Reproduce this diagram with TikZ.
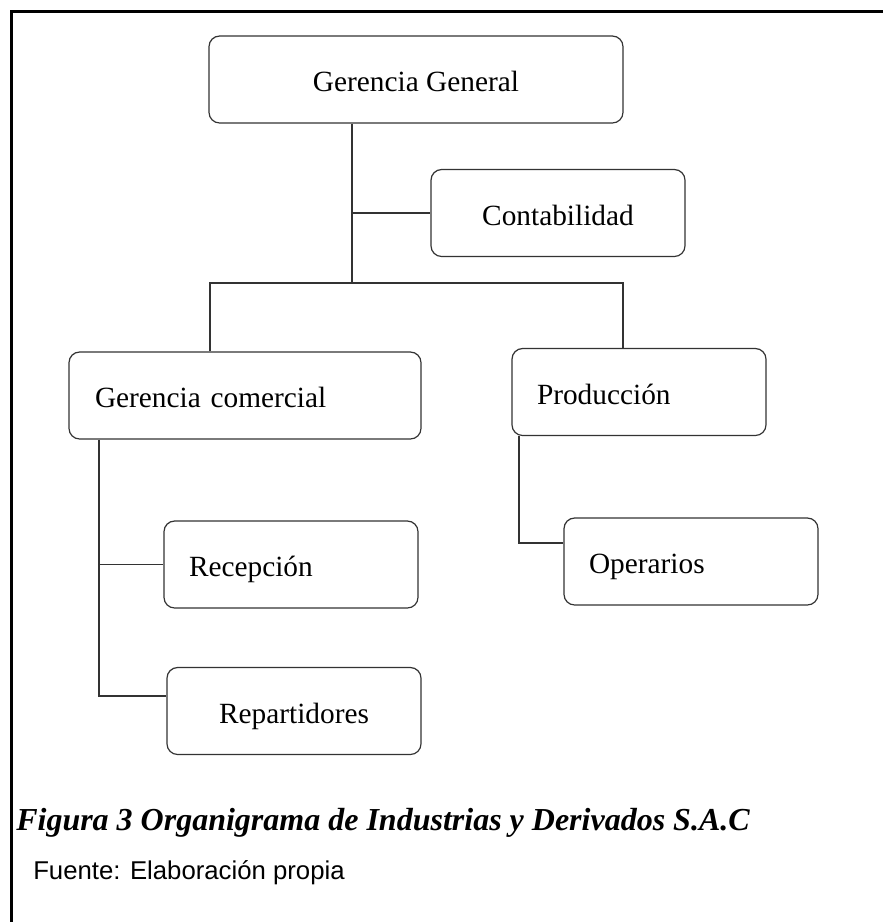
\documentclass[tikz,border=0pt]{standalone}
\usepackage{fontspec}
\setmainfont{Liberation Serif}
\newfontfamily\arial{Liberation Sans}
\usetikzlibrary{positioning,calc}

\begin{document}
\begin{tikzpicture}[
    x=0.75pt, y=-0.75pt,
    caja/.style={rectangle, draw=black!80, line width=0.9pt, rounded corners=8pt, minimum height=65.25pt, inner ysep=0pt, text height=18pt, text depth=0pt, font=\fontsize{22}{26}\selectfont},
    cajaizq/.style={caja, align=left, inner xsep=18.75pt, text width=153pt},
    linea/.style={draw=black!80, line width=0.9pt}
]
    \useasboundingbox (0,0) rectangle (883,922);
    % marco
    \draw[line width=2pt] (11.5,922) -- (11.5,11.5) -- (883,11.5);

    \node[caja, minimum width=310.5pt] (gerencia) at (416,79.5) {Gerencia General};
    \node[caja, minimum width=190.5pt] (conta) at (558,213) {Contabilidad};
    \node[cajaizq, inner xsep=19.5pt, text width=225pt] (comercial) at (245,395.5) {Gerencia comercial};
    \node[cajaizq] (produccion) at (639,392) {Producción};
    \node[cajaizq] (operarios) at (691,561.5) {Operarios};
    \node[cajaizq] (recepcion) at (291,564.5) {Recepción};
    \node[caja, minimum width=190.5pt] (repart) at (294,711) {Repartidores};

    % lineas
    \coordinate (tronco) at (352,283);
    \coordinate (ramaizq) at (210,283);
    \coordinate (ramader) at (623,283);
    \draw[linea] (gerencia.south -| tronco) -- (tronco);
    \draw[linea] (tronco |- conta.west) -- (conta.west);
    \draw[linea] (comercial.north -| ramaizq) -- (ramaizq) -- (ramader) -- (produccion.north -| ramader);
    \coordinate (bajada) at (99,696);
    \draw[linea] (comercial.south -| bajada) -- (bajada) -- (bajada -| repart.west);
    \draw[linea] (bajada |- recepcion.west) -- (recepcion.west);
    \coordinate (bajprod) at (519,543);
    \draw[linea] (produccion.south -| bajprod) -- (bajprod) -- (bajprod -| operarios.west);

    \node[anchor=base west, inner sep=0pt, font=\fontsize{24}{28}\selectfont\bfseries\itshape] (titulo) at (16,830) {Figura 3 Organigrama de Industrias y Derivados S.A.C};
    \node[anchor=base west, inner sep=0pt, font=\arial\fontsize{19.3}{23}\selectfont] (fuente) at (33,879) {Fuente: Elaboración propia};
\end{tikzpicture}
\end{document}
